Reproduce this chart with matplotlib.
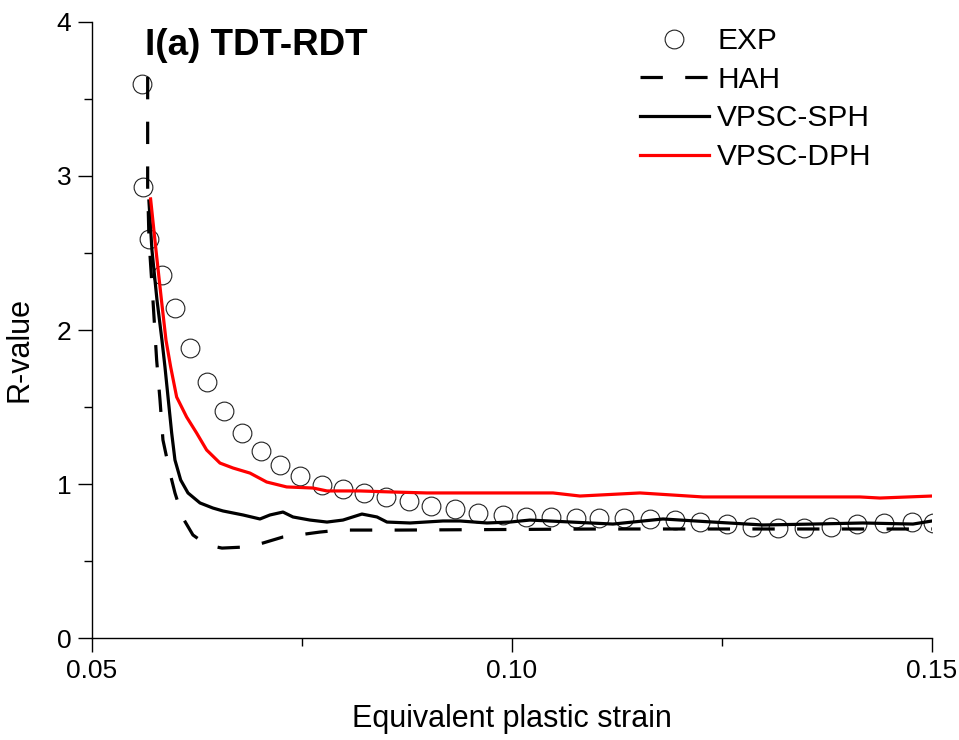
import matplotlib
matplotlib.use("Agg")
import matplotlib.pyplot as plt
from matplotlib.ticker import MultipleLocator, FormatStrFormatter

plt.rcParams['font.family'] = ['Liberation Sans', 'DejaVu Sans']

# experimental r-values
exp_strain = [0.05592, 0.05604, 0.05682, 0.05830, 0.05988, 0.06170, 0.06365, 0.06575,
              0.06789, 0.07012, 0.07242, 0.07476, 0.07735, 0.07985, 0.08242, 0.08504,
              0.08770, 0.09039, 0.09318, 0.09595, 0.09889, 0.10167, 0.10461, 0.10758,
              0.11039, 0.11337, 0.11643, 0.11940, 0.12242, 0.12556, 0.12857, 0.13163,
              0.13476, 0.13794, 0.14111, 0.14429, 0.14762, 0.15012]
exp_r = [3.595, 2.931, 2.589, 2.357, 2.140, 1.885, 1.662, 1.476,
         1.331, 1.214, 1.121, 1.052, 0.995, 0.969, 0.940, 0.914,
         0.888, 0.857, 0.836, 0.815, 0.799, 0.788, 0.784, 0.781,
         0.781, 0.777, 0.771, 0.766, 0.751, 0.738, 0.723, 0.716,
         0.716, 0.723, 0.738, 0.749, 0.751, 0.745]

# HAH model
hah_strain = [0.05663, 0.05663, 0.05679, 0.05726, 0.05770, 0.05810, 0.05845, 0.05929,
              0.05988, 0.06083, 0.06202, 0.06369, 0.06548, 0.06821, 0.07036, 0.07274,
              0.07536, 0.07714, 0.07952, 0.08667, 0.11048, 0.15]
hah_r = [3.643, 2.929, 2.584, 2.195, 1.805, 1.545, 1.286, 1.071,
         0.942, 0.779, 0.669, 0.604, 0.584, 0.591, 0.617, 0.656,
         0.675, 0.688, 0.701, 0.701, 0.708, 0.708]

# VPSC with single-phase hardening
sph_strain = [0.05678, 0.05714, 0.05774, 0.05833, 0.05869, 0.05949, 0.05988, 0.06056,
              0.06143, 0.06286, 0.06440, 0.06560, 0.06798, 0.07000, 0.07119, 0.07274,
              0.07393, 0.07595, 0.07798, 0.07988, 0.08214, 0.08393, 0.08512, 0.08786,
              0.09179, 0.09381, 0.09702, 0.09976, 0.10214, 0.11202, 0.11798, 0.12393,
              0.12988, 0.13583, 0.14179, 0.14774, 0.15]
sph_r = [2.838, 2.519, 2.195, 1.935, 1.760, 1.331, 1.156, 1.026,
         0.942, 0.877, 0.844, 0.825, 0.799, 0.773, 0.799, 0.818,
         0.786, 0.766, 0.753, 0.766, 0.805, 0.786, 0.753, 0.747,
         0.760, 0.760, 0.747, 0.753, 0.766, 0.740, 0.773, 0.753,
         0.734, 0.740, 0.747, 0.740, 0.760]

# VPSC with dual-phase hardening
dph_strain = [0.05698, 0.05762, 0.05827, 0.05881, 0.05937, 0.06008, 0.06127, 0.06246,
              0.06365, 0.06524, 0.06679, 0.06881, 0.07080, 0.07318, 0.07631, 0.07798,
              0.08190, 0.08583, 0.08988, 0.09583, 0.09976, 0.10488, 0.10810, 0.11524,
              0.12274, 0.13036, 0.14143, 0.14381, 0.15]
dph_r = [2.851, 2.519, 2.195, 1.935, 1.760, 1.565, 1.435, 1.331,
         1.221, 1.136, 1.104, 1.071, 1.013, 0.981, 0.974, 0.955,
         0.955, 0.948, 0.942, 0.942, 0.942, 0.942, 0.922, 0.942,
         0.916, 0.916, 0.916, 0.909, 0.922]

fig = plt.figure(figsize=(9.59, 7.40), dpi=100)
ax = fig.add_axes([0.0959, 0.1378, 0.8759, 0.8325])

ax.plot(exp_strain, exp_r, 'o', ms=13.5, mfc='none', mec='#222222', mew=0.8, label='EXP')
ax.plot(hah_strain, hah_r, color='black', lw=2.3, dashes=(7.0, 7.0), label='HAH')
ax.plot(sph_strain, sph_r, color='black', lw=2.3, label='VPSC-SPH')
ax.plot(dph_strain, dph_r, color='red', lw=2.3, label='VPSC-DPH')

ax.set_xlim(0.05, 0.15)
ax.set_ylim(0, 4)
ax.xaxis.set_major_locator(MultipleLocator(0.05))
ax.xaxis.set_minor_locator(MultipleLocator(0.025))
ax.xaxis.set_major_formatter(FormatStrFormatter('%.2f'))
ax.yaxis.set_major_locator(MultipleLocator(1))
ax.yaxis.set_minor_locator(MultipleLocator(0.5))

for s in ['top', 'right']:
    ax.spines[s].set_visible(False)
for s in ['left', 'bottom']:
    ax.spines[s].set_linewidth(1.0)

ax.tick_params(which='major', direction='out', length=10, width=1.0, labelsize=19, pad=5)
ax.tick_params(which='minor', direction='out', length=5.5, width=1.0)

ax.set_xlabel('Equivalent plastic strain', fontsize=22, labelpad=15)
ax.set_ylabel('R-value', fontsize=22)
ax.yaxis.set_label_coords(-0.068, 0.468)

fig.text(145 / 959, 1 - 55 / 740, 'I(a) TDT-RDT', fontsize=26.5, fontweight='bold',
         ha='left', va='baseline')

ax.legend(loc='upper left', bbox_to_anchor=(640 / 959, 1 - 27 / 740),
          bbox_transform=fig.transFigure, frameon=False, fontsize=21.5,
          handlelength=2.3, handletextpad=0.28, labelspacing=0.36,
          borderpad=0, borderaxespad=0, numpoints=1)

fig.savefig('out.png', dpi=100)
